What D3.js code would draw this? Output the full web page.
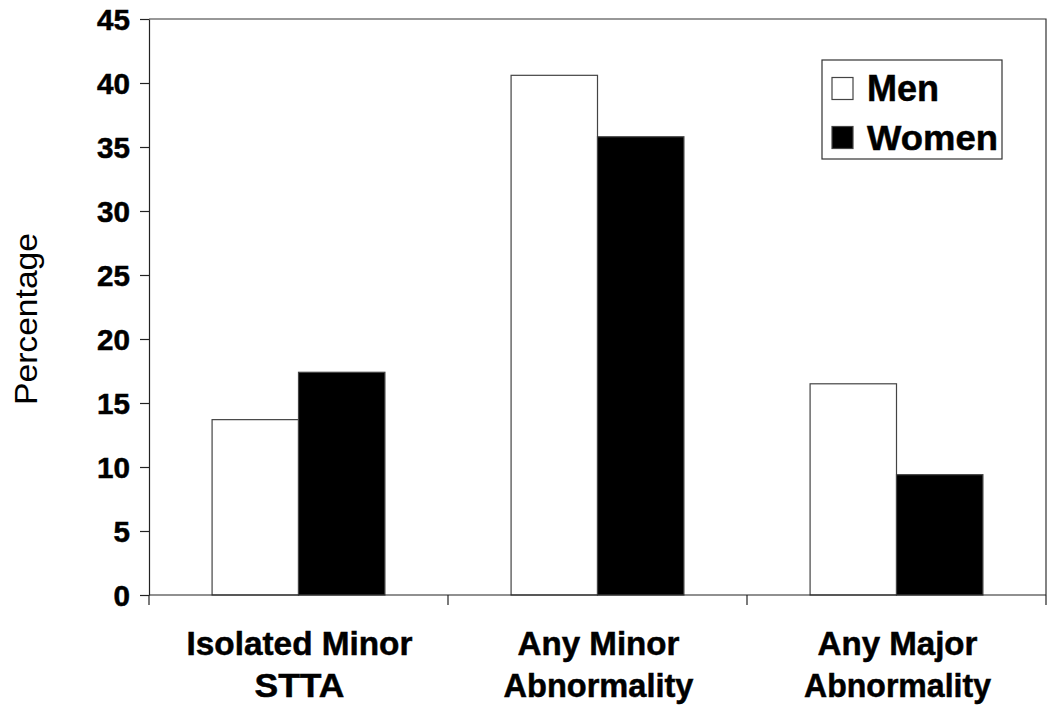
<!DOCTYPE html>
<html>
<head>
<meta charset="utf-8">
<script src="https://cdn.jsdelivr.net/npm/d3@7"></script>
<style>
  body { margin: 0; background: #fff; }
  text { font-family: "Liberation Sans", Arial, sans-serif; }
</style>
</head>
<body>
<div id="chart"></div>
<script>
// chart values
const categories = [["Isolated Minor", "STTA"], ["Any Minor", "Abnormality"], ["Any Major", "Abnormality"]];
const series = ["Men", "Women"];
const men = [13.7, 40.6, 16.5];
const women = [17.4, 35.8, 9.4];
const yTicks = [0, 5, 10, 15, 20, 25, 30, 35, 40, 45];
const seriesColor = { Men: "#ffffff", Women: "#000000" };

const width = 1050, height = 715;
const margin = { top: 19, right: 4, bottom: 120, left: 149 };

const svg = d3.select("#chart")
  .append("svg")
  .attr("width", width)
  .attr("height", height);

// nudge a text's width (in its own frame) so it spans w pixels
function fitWidth(sel, w, x, y, rot) {
  sel.each(function (d, i) {
    const target = typeof w === "function" ? w(d, i) : w;
    const natural = this.getComputedTextLength();
    const sx = target / natural;
    d3.select(this)
      .attr("x", 0).attr("y", 0)
      .attr("transform", `translate(${x},${y})${rot ? ` rotate(${rot})` : ""} scale(${sx},1)`);
  });
}

const catKeys = categories.map(c => c.join(" "));

const x = d3.scaleBand()
  .domain(catKeys)
  .range([margin.left, width - margin.right])
  .padding(0);

const xSub = d3.scaleBand()
  .domain(series)
  .range([0, x.bandwidth()])
  .paddingInner(0)
  .paddingOuter(0.73);

const y = d3.scaleLinear()
  .domain([0, 45])
  .range([height - margin.bottom, margin.top]);

const x0 = x.range()[0], x1 = x.range()[1];
const yb = y(0), yt = y(45);

// frame (top and right)
svg.append("path")
  .attr("d", `M${x0},${yt}H${x1}V${yb}`)
  .attr("fill", "none")
  .attr("stroke", "#333")
  .attr("stroke-width", 1.2);

// bars
const rows = catKeys.map((k, i) => ({ key: k, values: [{ s: "Men", v: men[i] }, { s: "Women", v: women[i] }] }));

const groups = svg.append("g").attr("class", "bars")
  .selectAll("g")
  .data(rows)
  .enter()
  .append("g")
  .attr("transform", d => `translate(${x(d.key)},0)`);

groups.selectAll("rect")
  .data(d => d.values)
  .enter()
  .append("rect")
  .attr("x", d => xSub(d.s))
  .attr("y", d => y(d.v))
  .attr("width", xSub.bandwidth())
  .attr("height", d => y(0) - y(d.v))
  .attr("fill", d => seriesColor[d.s])
  .attr("stroke", "#444")
  .attr("stroke-width", 1.2);

// y axis
const yAxis = svg.append("g")
  .attr("transform", `translate(${x0},0)`)
  .call(d3.axisLeft(y).tickValues(yTicks).tickSize(9).tickPadding(10).tickSizeOuter(0));

yAxis.select(".domain").attr("stroke", "#222").attr("stroke-width", 1.2);
yAxis.selectAll(".tick line").attr("stroke", "#222").attr("stroke-width", 1.2);
yAxis.selectAll(".tick text")
  .attr("font-size", 29)
  .attr("font-weight", "bold")
  .attr("fill", "#000")
  .attr("stroke", "#000")
  .attr("stroke-width", 0.5)
  .attr("dy", "0.36em")
  .call(fitWidth, d => String(d).length * 16.5, -19, 0);

// x axis line + boundary ticks
svg.append("line")
  .attr("x1", x0).attr("x2", x1)
  .attr("y1", yb).attr("y2", yb)
  .attr("stroke", "#222").attr("stroke-width", 1.2);

const bounds = catKeys.map(k => x(k)).concat([x1]);
svg.append("g").selectAll("line")
  .data(bounds)
  .enter()
  .append("line")
  .attr("x1", d => d).attr("x2", d => d)
  .attr("y1", yb).attr("y2", yb + 10)
  .attr("stroke", "#222").attr("stroke-width", 1.2);

// category labels (two lines each)
const labelWidths = [[226, 90], [162, 190], [160, 187]];
const catGroup = svg.append("g");
categories.forEach((lines, i) => {
  const cx = x(catKeys[i]) + x.bandwidth() / 2 + 1;
  lines.forEach((line, j) => {
    catGroup.append("text")
      .attr("text-anchor", "middle")
      .attr("font-size", 33)
      .attr("font-weight", "bold")
      .attr("fill", "#000")
      .attr("stroke", "#000")
      .attr("stroke-width", 0.5)
      .text(line)
      .call(fitWidth, labelWidths[i][j], cx, 655 + j * 42);
  });
});

// y axis title
svg.append("text")
  .attr("text-anchor", "middle")
  .attr("font-size", 31)
  .attr("fill", "#000")
  .text("Percentage")
  .call(fitWidth, 172, 37, 319, -90);

// legend
const legend = svg.append("g").attr("transform", "translate(822,60)");
legend.append("rect")
  .attr("width", 180).attr("height", 99)
  .attr("fill", "#fff")
  .attr("stroke", "#333").attr("stroke-width", 1.2);

const legendWidths = [72, 131];
const items = legend.selectAll("g")
  .data(series)
  .enter()
  .append("g")
  .attr("transform", (d, i) => `translate(10,${17.5 + i * 49})`);

items.append("rect")
  .attr("width", 21).attr("height", 22)
  .attr("fill", d => seriesColor[d])
  .attr("stroke", "#444").attr("stroke-width", 1.2);

items.append("text")
  .attr("font-size", 36)
  .attr("font-weight", "bold")
  .attr("fill", "#000")
  .attr("stroke", "#000")
  .attr("stroke-width", 0.5)
  .text(d => d)
  .call(fitWidth, (d, i) => legendWidths[i], 35, 23);
</script>
</body>
</html>
